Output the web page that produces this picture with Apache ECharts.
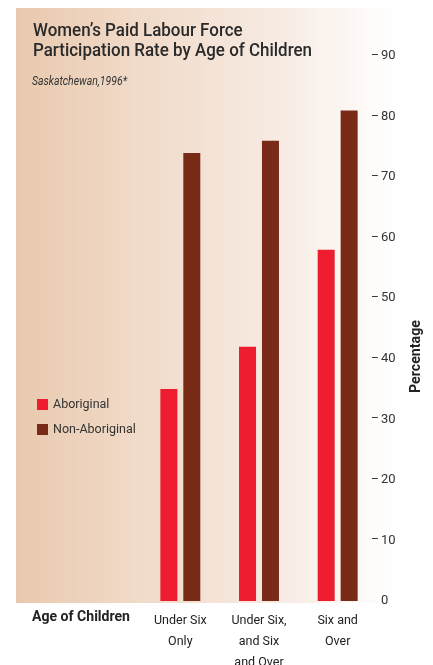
<!DOCTYPE html>
<html><head><meta charset="utf-8">
<script src="https://cdn.jsdelivr.net/npm/echarts@6/dist/echarts.min.js"></script>
<style>html,body{margin:0;padding:0;background:#fff}#c{width:433px;height:665px}</style>
</head><body><div id="c"></div>
<script>
const categories = ['Under Six\nOnly', 'Under Six,\nand Six\nand Over', 'Six and\nOver'];
const aboriginal = [35, 42, 58];
const nonAboriginal = [74, 76, 81];
const yTicks = [0, 10, 20, 30, 40, 50, 60, 70, 80, 90];

const FONT = 'Roboto';
const mctx = document.createElement('canvas').getContext('2d');
function fitScale(text, font, target) {
  mctx.font = font;
  const w = Math.max.apply(null, text.split('\n').map(t => mctx.measureText(t).width));
  return target / w;
}
const titleText = 'Women\u2019s Paid Labour Force\nParticipation Rate by Age of Children';
const titleFont = '500 18.5px ' + FONT;
const subText = 'Saskatchewan,1996*';
const subFont = 'italic 12.5px ' + FONT;
const ageText = 'Age of Children';
const ageFont = 'bold 15px ' + FONT;
const pctText = 'Percentage';
const pctFont = 'bold 14.5px ' + FONT;

const chart = echarts.init(document.getElementById('c'), null, {renderer: 'canvas'});
chart.setOption({
  backgroundColor: '#ffffff',
  animation: false,
  graphic: [
    {type: 'rect', z: -10, shape: {x: 16, y: 8, width: 380, height: 595},
     style: {fill: new echarts.graphic.LinearGradient(0, 0, 1, 0, [
       {offset: 0, color: '#e9c9ae'},
       {offset: 0.35, color: '#f1dccb'},
       {offset: 0.7, color: '#f7ebe3'},
       {offset: 1, color: '#ffffff'}])}},
    {type: 'text', x: 33, y: 22, scaleX: fitScale(titleText, titleFont, 279),
      style: {text: titleText, font: titleFont, lineHeight: 19.5, fill: '#2a2a2a', verticalAlign: 'top'}},
    {type: 'text', x: 32, y: 75, scaleX: fitScale(subText, subFont, 95),
      style: {text: subText, font: subFont, fill: '#333', verticalAlign: 'top'}},
    {type: 'text', x: 32, y: 610, scaleX: fitScale(ageText, ageFont, 98),
      style: {text: ageText, font: ageFont, fill: '#222', verticalAlign: 'top'}},
    {type: 'text', x: 416, y: 356.5, rotation: Math.PI / 2, scaleX: fitScale(pctText, pctFont, 73),
      style: {text: pctText, font: pctFont, fill: '#222', align: 'center', verticalAlign: 'middle'}}
  ],
  legend: {
    orient: 'vertical', left: 32, top: 393, itemWidth: 11, itemHeight: 11, itemGap: 12,
    icon: 'rect', textStyle: {fontFamily: FONT, fontSize: 12.5, color: '#333', padding: [0, 0, 0, 0]},
    data: ['Aboriginal', 'Non-Aboriginal']
  },
  grid: {left: 141, width: 236, top: 56, height: 545, containLabel: false, outerBoundsMode: 'none'},
  xAxis: {
    type: 'category', data: categories,
    axisLine: {show: false}, axisTick: {show: false},
    axisLabel: {fontFamily: FONT, fontSize: 12.5, color: '#222', lineHeight: 21, margin: 9, interval: 0}
  },
  yAxis: {
    type: 'value', position: 'right', min: 0, max: 90, interval: 10,
    splitLine: {show: false}, axisLine: {show: false}, axisTick: {show: false},
    axisLabel: {
      margin: -6, align: 'left',
      formatter: v => yTicks.indexOf(v) < 0 ? '' : (v === 0 ? '{d|}{n|0}' : '{d|\u2013}{n|' + v + '}'),
      rich: {
        d: {width: 10, fontFamily: FONT, fontSize: 12, color: '#333'},
        n: {fontFamily: FONT, fontSize: 13, color: '#333'}
      }
    }
  },
  series: [
    {name: 'Aboriginal', type: 'bar', data: aboriginal, barWidth: 17, barGap: '35%', itemStyle: {color: '#ed1c2e'}},
    {name: 'Non-Aboriginal', type: 'bar', data: nonAboriginal, barWidth: 17, itemStyle: {color: '#7a2b17'}}
  ]
});
</script></body></html>
